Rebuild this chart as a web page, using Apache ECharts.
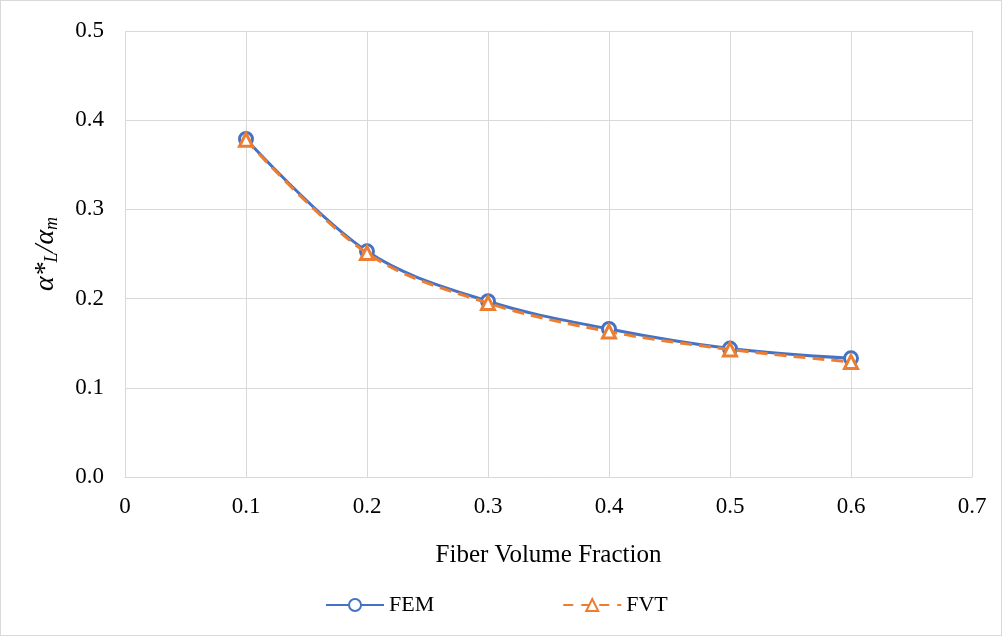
<!DOCTYPE html>
<html>
<head>
<meta charset="utf-8">
<script src="https://cdn.jsdelivr.net/npm/echarts@6/dist/echarts.min.js"></script>
<style>
html,body{margin:0;padding:0;background:#fff;}
#c{width:1002px;height:636px;box-sizing:border-box;border:1px solid #d9d9d9;}
</style>
</head>
<body>
<div id="c"></div>
<script>
var fractions = [0.1, 0.2, 0.3, 0.4, 0.5, 0.6];
var femValues = [0.379, 0.253, 0.197, 0.166, 0.144, 0.133];
var fvtValues = [0.378, 0.251, 0.195, 0.163, 0.143, 0.129];
var xTickLabels = ['0', '0.1', '0.2', '0.3', '0.4', '0.5', '0.6', '0.7'];

function pairs(xs, ys) { return xs.map(function (x, i) { return [x, ys[i]]; }); }

var font = '"Liberation Serif", "Times New Roman", serif';
var chart = echarts.init(document.getElementById('c'));
chart.setOption({
  animation: false,
  textStyle: { fontFamily: font },
  grid: { left: 124, right: 29, top: 30, bottom: 158 },
  legend: {
    bottom: 14,
    left: 319,
    itemGap: 128,
    itemWidth: 58,
    itemHeight: 15,
    textStyle: { fontFamily: font, fontSize: 22, color: '#000' },
    data: [
      { name: 'FEM' },
      { name: 'FVT', lineStyle: { type: [10, 8] } }
    ]
  },
  xAxis: {
    type: 'value', min: 0, max: 0.7, interval: 0.1,
    name: 'Fiber Volume Fraction', nameLocation: 'middle', nameGap: 66,
    nameTextStyle: { fontFamily: font, fontSize: 25, color: '#000' },
    axisLine: { show: true, lineStyle: { color: '#d9d9d9', width: 1 } },
    axisTick: { show: false },
    axisLabel: { fontFamily: font, fontSize: 23, color: '#000', margin: 18,
      formatter: function (v) { return xTickLabels[Math.round(v * 10)]; } },
    splitLine: { show: true, lineStyle: { color: '#d9d9d9', width: 1 } }
  },
  yAxis: {
    type: 'value', min: 0, max: 0.5, interval: 0.1,
    name: '{i|α*}{sub|L}{i|/α}{sub|m}', nameLocation: 'middle', nameGap: 64, nameRotate: 90,
    nameTextStyle: { rich: {
      i: { fontFamily: font, fontSize: 28, fontStyle: 'italic', color: '#000' },
      sub: { fontFamily: font, fontSize: 18, fontStyle: 'italic', color: '#000', verticalAlign: 'bottom', padding: [12, 0, 0, 0] }
    } },
    axisLine: { show: false },
    axisTick: { show: false },
    axisLabel: { fontFamily: font, fontSize: 23, color: '#000', margin: 21,
      formatter: function (v) { return v.toFixed(1); } },
    splitLine: { show: true, lineStyle: { color: '#d9d9d9', width: 1 } }
  },
  series: [
    {
      name: 'FEM', type: 'line', smooth: 0.35,
      data: pairs(fractions, femValues),
      symbol: 'circle', symbolSize: 13,
      lineStyle: { color: '#4472C4', width: 3 },
      itemStyle: { color: '#fff', borderColor: '#4472C4', borderWidth: 3 },
      z: 2
    },
    {
      name: 'FVT', type: 'line', smooth: 0.35,
      data: pairs(fractions, fvtValues),
      symbol: 'triangle', symbolSize: 13,
      lineStyle: { color: '#ED7D31', width: 3, type: [12, 7] },
      itemStyle: { color: '#fff', borderColor: '#ED7D31', borderWidth: 3 },
      z: 3
    }
  ]
});
</script>
</body>
</html>
